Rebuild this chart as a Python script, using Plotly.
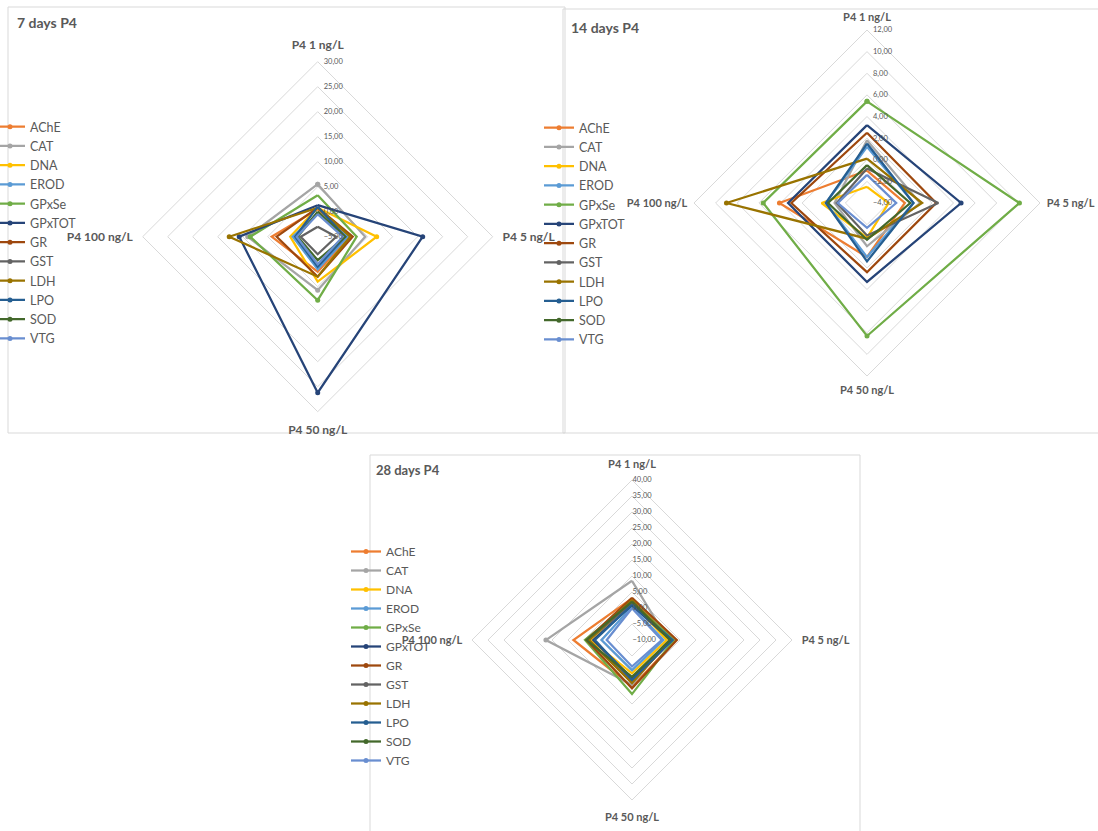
import plotly.graph_objects as go

# Exposure concentrations (radar spokes, clockwise from the top)
concentrations = ["P4 1 ng/L", "P4 5 ng/L", "P4 50 ng/L", "P4 100 ng/L"]

biomarkers = ["AChE", "CAT", "DNA", "EROD", "GPxSe", "GPxTOT",
              "GR", "GST", "LDH", "LPO", "SOD", "VTG"]

colors = ["#ED7D31", "#A5A5A5", "#FFC000", "#5B9BD5", "#70AD47", "#264478",
          "#9E480E", "#636363", "#997300", "#255E91", "#43682B", "#698ED0"]

# Biomarker responses after 7 days (one list per biomarker, order = concentrations)
day7 = {
    "AChE":   [0.5, 1.5, 2.0, 4.2],
    "CAT":    [5.5, 4.5, 5.7, 9.0],
    "DNA":    [0.8, 6.8, 4.0, 0.5],
    "EROD":   [-0.5, 1.0, 1.5, 0.0],
    "GPxSe":  [3.3, 2.8, 7.7, 8.5],
    "GPxTOT": [1.3, 16.0, 26.2, 10.7],
    "GR":     [0.8, 2.0, 3.0, 3.2],
    "GST":    [-3.0, -1.3, -1.5, -1.6],
    "LDH":    [0.8, 1.5, 3.0, 12.7],
    "LPO":    [1.0, 0.5, 1.0, -0.5],
    "SOD":    [0.0, 0.5, -0.3, -1.0],
    "VTG":    [-0.5, 0.0, 0.5, -0.8],
}

# Biomarker responses after 14 days
day14 = {
    "AChE":   [-1.0, -0.5, 1.0, 4.1],
    "CAT":    [1.8, 0.9, 0.0, -1.0],
    "DNA":    [-2.5, -2.0, -0.8, 0.2],
    "EROD":   [1.2, 0.3, 1.0, -0.2],
    "GPxSe":  [5.4, 10.1, 8.3, 5.6],
    "GPxTOT": [3.2, 4.7, 3.3, 3.3],
    "GR":     [2.5, 2.4, 2.4, 3.0],
    "GST":    [-0.8, 2.6, -1.0, -1.2],
    "LDH":    [0.1, 1.1, -0.7, 9.0],
    "LPO":    [1.5, 0.3, 1.4, -0.2],
    "SOD":    [-0.5, 0.0, -0.6, -0.4],
    "VTG":    [-1.4, -1.3, -1.7, -1.3],
}

# Biomarker responses after 28 days
day28 = {
    "AChE":   [3.0, 3.8, 4.6, 8.3],
    "CAT":    [8.5, 1.2, 4.0, 16.9],
    "DNA":    [1.8, 0.8, 0.4, 3.0],
    "EROD":   [0.4, -0.2, -0.6, -0.5],
    "GPxSe":  [2.0, 3.1, 6.9, 4.7],
    "GPxTOT": [0.9, 2.0, 2.0, 2.1],
    "GR":     [3.2, 4.0, 5.1, 4.2],
    "GST":    [1.5, 2.3, 3.0, 3.5],
    "LDH":    [2.5, 2.0, 3.5, 3.5],
    "LPO":    [1.0, 2.7, 2.5, 1.6],
    "SOD":    [2.0, 1.9, 1.5, 4.2],
    "VTG":    [-0.1, -0.7, -1.7, -2.1],
}

titles = ["7 days P4", "14 days P4", "28 days P4"]
radial_ranges = [(-5, 30, 5), (-4, 12, 2), (-10, 40, 5)]

W, H = 1098, 831
FONT = "Lato, 'Open Sans', sans-serif"
TXT = "#595959"
GRID = "#D9D9D9"

# Panel geometry in pixels: centre x, centre y, radius
panels = [(317.7, 236.7, 175), (867, 203, 173), (632, 640, 160)]
legend_pos = [(0, 112), (539, 113), (346, 537)]
legend_indent = [-10, 0, 0]
legend_font = [12.5, 12.5, 12.0]
label_font = [12, 11, 11]
label_pad = [7, 4, 7]
tick_pad = [4, 4, 0]
title_pos = [(15, 22), (569, 27), (374, 470)]
title_font = [14, 14, 13]
frames = [(8, 7, 565, 433), (563, 9, 1105, 433), (370, 455, 860, 840)]

fig = go.Figure()

datasets = [day7, day14, day28]
for k, data in enumerate(datasets):
    polar_id = "polar" if k == 0 else f"polar{k + 1}"
    legend_id = "legend" if k == 0 else f"legend{k + 1}"
    for name, col in zip(biomarkers, colors):
        vals = data[name]
        fig.add_trace(go.Scatterpolar(
            r=vals + vals[:1],
            theta=concentrations + concentrations[:1],
            mode="lines+markers",
            name=name,
            line=dict(color=col, width=2.25),
            marker=dict(color=col, size=5),
            subplot=polar_id,
            legend=legend_id,
        ))

layout = dict(
    width=W, height=H, autosize=False,
    margin=dict(l=0, r=0, t=0, b=0),
    paper_bgcolor="white", plot_bgcolor="white",
    separators=",.",
    font=dict(family=FONT, color=TXT),
    shapes=[], annotations=[],
)

for k in range(3):
    cx, cy, R = panels[k]
    lo, hi, step = radial_ranges[k]
    polar_key = "polar" if k == 0 else f"polar{k + 1}"
    layout[polar_key] = dict(
        domain=dict(x=[(cx - R) / W, (cx + R) / W],
                    y=[(H - cy - R) / H, (H - cy + R) / H]),
        gridshape="linear",
        bgcolor="rgba(0,0,0,0)",
        radialaxis=dict(
            range=[lo, hi], dtick=step, tick0=lo, tickformat=".2f",
            angle=90, tickangle=90, side="clockwise", showline=False,
            ticks="outside" if tick_pad[k] else "", ticklen=max(tick_pad[k], 1),
            tickcolor="rgba(0,0,0,0)",
            gridcolor=GRID, gridwidth=1,
            tickfont=dict(size=7.5, color=TXT, family=FONT),
        ),
        angularaxis=dict(
            type="category", categoryorder="array", categoryarray=concentrations,
            rotation=90, direction="clockwise",
            showgrid=False, showline=True, linecolor=GRID, linewidth=1,
            ticks="outside", ticklen=label_pad[k], tickcolor="rgba(0,0,0,0)",
            tickfont=dict(size=label_font[k], color=TXT, family=FONT, weight="bold"),
        ),
    )
    legend_key = "legend" if k == 0 else f"legend{k + 1}"
    lx, ly = legend_pos[k]
    layout[legend_key] = dict(
        x=lx / W, y=1 - ly / H, xanchor="left", yanchor="top",
        bgcolor="rgba(0,0,0,0)", borderwidth=0,
        font=dict(size=legend_font[k], color=TXT, family=FONT),
        itemwidth=30, tracegroupgap=0, indentation=legend_indent[k],
    )
    x0, y0, x1, y1 = frames[k]
    layout["shapes"].append(dict(
        type="rect", xref="paper", yref="paper",
        x0=x0 / W, x1=x1 / W, y0=1 - y1 / H, y1=1 - y0 / H,
        line=dict(color=GRID, width=1), fillcolor="rgba(0,0,0,0)", layer="below",
    ))
    tx, ty = title_pos[k]
    layout["annotations"].append(dict(
        text=f"<b>{titles[k]}</b>", xref="paper", yref="paper",
        x=tx / W, y=1 - ty / H, xanchor="left", yanchor="middle",
        showarrow=False, font=dict(size=title_font[k], color=TXT, family=FONT),
    ))

fig.update_layout(**layout)
fig.write_html("out.html")
